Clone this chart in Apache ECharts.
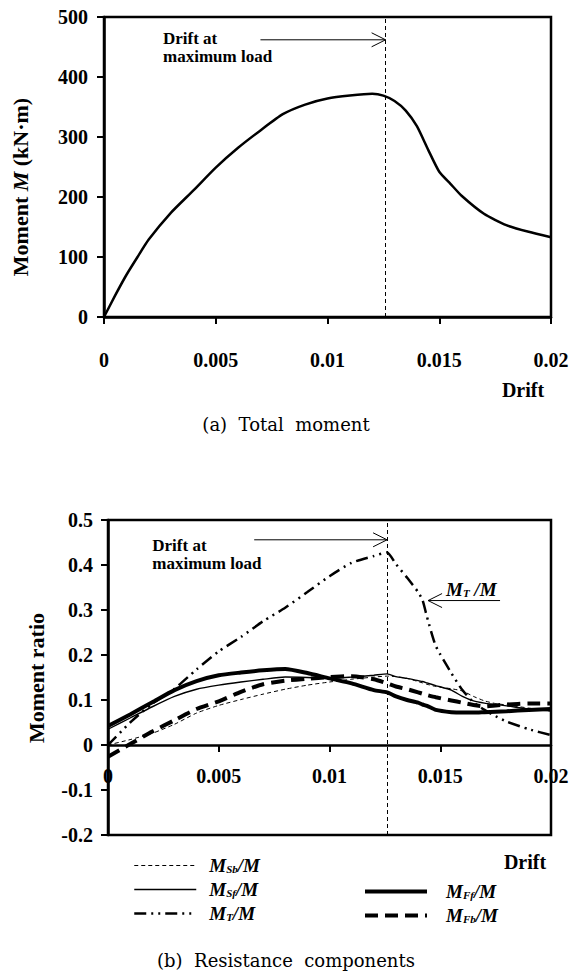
<!DOCTYPE html>
<html>
<head>
<meta charset="utf-8">
<script src="https://cdn.jsdelivr.net/npm/echarts@6/dist/echarts.min.js"></script>
<style>
  html, body { margin: 0; padding: 0; background: #fff; }
  #chart { width: 572px; height: 979px; }
</style>
</head>
<body>
<div id="chart"></div>
<script>
// fonts
var SERIF = '"Liberation Serif", "Times New Roman", serif';
var CAPTION_FONT = '"DejaVu Serif", serif';

// (a) total moment vs drift
var driftA  = [0, 0.0005, 0.001, 0.0015, 0.002, 0.003, 0.004, 0.005, 0.006, 0.007, 0.008, 0.009,
               0.010, 0.011, 0.012, 0.0125, 0.013, 0.0135, 0.014, 0.0145, 0.015, 0.0155, 0.016,
               0.017, 0.018, 0.019, 0.020];
var momentA = [0, 36, 70, 100, 129, 174, 211, 249, 282, 311, 338, 354,
               364, 369, 372, 369, 360, 344, 318, 279, 242, 222, 202,
               172, 153, 142, 133];

// (b) resistance components vs drift
var driftB   = [0, 0.001, 0.002, 0.003, 0.004, 0.005, 0.006, 0.007, 0.008, 0.009, 0.010, 0.011,
                0.012, 0.0126, 0.013, 0.0135, 0.014, 0.0142, 0.0144, 0.0148, 0.0155, 0.016,
                0.0165, 0.017, 0.0175, 0.018, 0.019, 0.020];
var ratioMSb = [0, 0.012, 0.026, 0.046, 0.071, 0.088, 0.101, 0.113, 0.124, 0.133, 0.140, 0.146,
                0.151, 0.153, 0.152, 0.148, 0.141, 0.138, 0.135, 0.130, 0.125, 0.120,
                0.108, 0.098, 0.092, 0.089, 0.082, 0.075];
var ratioMSf = [0.035, 0.060, 0.085, 0.108, 0.124, 0.133, 0.140, 0.146, 0.151, 0.150, 0.148, 0.151,
                0.155, 0.158, 0.152, 0.148, 0.143, 0.141, 0.138, 0.132, 0.122, 0.108,
                0.098, 0.093, 0.090, 0.087, 0.080, 0.076];
var ratioMT  = [0, 0.050, 0.092, 0.125, 0.168, 0.208, 0.240, 0.275, 0.305, 0.340, 0.375, 0.405,
                0.420, 0.428, 0.402, 0.372, 0.340, 0.322, 0.285, 0.220, 0.160, 0.122,
                0.095, 0.078, 0.064, 0.052, 0.035, 0.022];
var ratioMFf = [0.042, 0.068, 0.095, 0.122, 0.142, 0.155, 0.161, 0.166, 0.169, 0.160, 0.148, 0.137,
                0.122, 0.117, 0.108, 0.100, 0.094, 0.090, 0.087, 0.078, 0.073, 0.072,
                0.072, 0.073, 0.074, 0.075, 0.078, 0.080];
var ratioMFb = [-0.026, 0.002, 0.030, 0.055, 0.080, 0.097, 0.118, 0.135, 0.143, 0.147, 0.151, 0.153,
                0.146, 0.137, 0.130, 0.124, 0.117, 0.114, 0.111, 0.106, 0.099, 0.094,
                0.089, 0.086, 0.088, 0.090, 0.092, 0.092];

// tick labels
var xTickLabels  = ['0', '0.005', '0.01', '0.015', '0.02'];
var yTickLabelsA = ['0', '100', '200', '300', '400', '500'];
var yTickLabelsB = ['-0.2', '-0.1', '0', '0.1', '0.2', '0.3', '0.4', '0.5'];

// annotation anchors (data units)
var peakDrift = 0.0126;
var arrowA = { from: 0.007, at: 462, textX: 0.00264, textY: 478 };
var arrowB = { from: 0.0066, at: 0.456, textX: 0.002, textY: 0.462 };
var arrowMT = { tip: 0.01445, tail: 0.0177, at: 0.321, textX: 0.01526 };

var gridA = { left: 104, top: 17, width: 447, height: 300 };
var gridB = { left: 108, top: 520, width: 443, height: 315 };
var yMinB = -0.2, yMaxB = 0.5;

function pairs(xs, ys) {
  return xs.map(function (x, i) { return [x, ys[i]]; });
}

var chart = echarts.init(document.getElementById('chart'), null, { renderer: 'svg' });

var tickFont = { fontFamily: SERIF, fontWeight: 'bold', fontSize: 20, color: '#000' };
var richM = {
  m: { fontFamily: SERIF, fontStyle: 'italic', fontWeight: 'bold', fontSize: 19, color: '#000' },
  s: { fontFamily: SERIF, fontStyle: 'italic', fontWeight: 'bold', fontSize: 11, color: '#000', padding: [7, 0, 0, 0] }
};
var legendText = {
  'MSb/M': '{m|M}{s|Sb}{m|/M}',
  'MSf/M': '{m|M}{s|Sf}{m|/M}',
  'MT/M':  '{m|M}{s|T}{m|/M}',
  'MFf/M': '{m|M}{s|Ff}{m|/M}',
  'MFb/M': '{m|M}{s|Fb}{m|/M}'
};

function xAxisFor(grid, margin, offset) {
  return {
    type: 'value', gridIndex: grid, min: 0, max: 0.02, interval: 0.005,
    offset: offset,
    axisLine: { show: true, onZero: false, lineStyle: { color: '#000', width: 2.5 } },
    axisTick: { show: true, length: 7, lineStyle: { color: '#000', width: 2 } },
    axisLabel: Object.assign({ margin: margin, showMinLabel: true, showMaxLabel: true,
      formatter: function (v) { return xTickLabels[Math.round(v / 0.005)]; } }, tickFont),
    splitLine: { show: false }
  };
}

var borderLine = { color: '#000', width: 2.5 };
// bottom chart's drift axis sits on ratio = 0
var zeroOffsetB = -gridB.height * (0 - yMinB) / (yMaxB - yMinB);

function lineSeries(name, xs, ys, style, extra) {
  return Object.assign({
    name: name, type: 'line', xAxisIndex: 1, yAxisIndex: 1, data: pairs(xs, ys),
    symbol: 'none', smooth: 0.2, itemStyle: { color: '#000' },
    lineStyle: Object.assign({ color: '#000' }, style)
  }, extra || {});
}

var peakLine = {
  silent: true, symbol: 'none', label: { show: false }, precision: 6,
  lineStyle: { color: '#000', width: 1, type: [4, 3] },
  data: [{ xAxis: peakDrift }]
};

function legendFor(names, left, top, textGap) {
  return {
    data: names, orient: 'vertical', left: left, top: top,
    itemWidth: 62, itemHeight: 20, itemGap: 5, selectedMode: false,
    itemStyle: { opacity: 0 },
    lineStyle: { width: 'inherit', type: 'inherit', color: 'inherit' },
    formatter: function (n) { return legendText[n]; },
    textStyle: { rich: richM, padding: [0, 0, 0, textGap] }
  };
}

chart.setOption({
  animation: false,
  backgroundColor: '#fff',
  grid: [
    Object.assign({ show: true, borderColor: '#000', borderWidth: 2.5 }, gridA),
    Object.assign({ show: true, borderColor: '#000', borderWidth: 2.5 }, gridB)
  ],
  xAxis: [xAxisFor(0, 33, 0), xAxisFor(1, 21, zeroOffsetB)],
  yAxis: [
    {
      type: 'value', gridIndex: 0, min: 0, max: 500, interval: 100,
      axisLine: { show: true, lineStyle: borderLine },
      axisTick: { show: true, length: 7, lineStyle: { color: '#000', width: 2 } },
      axisLabel: Object.assign({ margin: 16,
        formatter: function (v) { return yTickLabelsA[Math.round(v / 100)]; } }, tickFont),
      splitLine: { show: false }
    },
    {
      type: 'value', gridIndex: 1, min: yMinB, max: yMaxB, interval: 0.1,
      axisLine: { show: true, lineStyle: borderLine },
      axisTick: { show: true, length: 7, lineStyle: { color: '#000', width: 2 } },
      axisLabel: Object.assign({ margin: 15,
        formatter: function (v) { return yTickLabelsB[Math.round((v - yMinB) / 0.1)]; } }, tickFont),
      splitLine: { show: false }
    }
  ],
  legend: [
    legendFor(['MSb/M', 'MSf/M', 'MT/M'], 128, 851, 8),
    legendFor(['MFf/M', 'MFb/M'], 358, 877, 14)
  ],
  series: [
    {
      name: 'M', type: 'line', xAxisIndex: 0, yAxisIndex: 0, data: pairs(driftA, momentA),
      symbol: 'none', smooth: 0.2, lineStyle: { color: '#000', width: 2.5 },
      markLine: peakLine
    },
    lineSeries('MSb/M', driftB, ratioMSb, { width: 1, type: [4, 3] }, { markLine: peakLine }),
    lineSeries('MSf/M', driftB, ratioMSf, { width: 1.4 }),
    lineSeries('MT/M', driftB, ratioMT, { width: 2.5, type: [12, 5, 2, 5, 2, 5] }),
    lineSeries('MFf/M', driftB, ratioMFf, { width: 4 }),
    lineSeries('MFb/M', driftB, ratioMFb, { width: 4, type: [13, 7] })
  ]
});

// annotations, placed through the axes
function px(grid, x, y) { return chart.convertToPixel({ gridIndex: grid }, [x, y]); }

function arrowRight(grid, x0, x1, y) {
  var a = px(grid, x0, y), b = px(grid, x1, y);
  return [
    { type: 'line', shape: { x1: a[0], y1: a[1], x2: b[0], y2: b[1] }, style: { stroke: '#000', lineWidth: 1 } },
    { type: 'polyline', shape: { points: [[b[0] - 14, b[1] - 7], [b[0], b[1]], [b[0] - 14, b[1] + 7]] },
      style: { stroke: '#000', lineWidth: 1, fill: null } }
  ];
}

function arrowLeft(grid, tip, tail, y) {
  var a = px(grid, tip, y), b = px(grid, tail, y);
  return [
    { type: 'line', shape: { x1: a[0], y1: a[1], x2: b[0], y2: b[1] }, style: { stroke: '#000', lineWidth: 1 } },
    { type: 'polyline', shape: { points: [[a[0] + 14, a[1] - 7], [a[0], a[1]], [a[0] + 14, a[1] + 7]] },
      style: { stroke: '#000', lineWidth: 1, fill: null } }
  ];
}

var noteFont = { fontFamily: SERIF, fontWeight: 'bold', fontSize: 17, fill: '#000' };
var tA = px(0, arrowA.textX, arrowA.textY);
var tB = px(1, arrowB.textX, arrowB.textY);
var tMT = px(1, arrowMT.textX, arrowMT.at);

function note(p) {
  return [
    { type: 'text', x: p[0], y: p[1], style: Object.assign({ text: 'Drift at', verticalAlign: 'top' }, noteFont) },
    { type: 'text', x: p[0], y: p[1] + 18, style: Object.assign({ text: 'maximum load', verticalAlign: 'top' }, noteFont) }
  ];
}

var graphics = []
  .concat(arrowRight(0, arrowA.from, peakDrift, arrowA.at))
  .concat(arrowRight(1, arrowB.from, peakDrift, arrowB.at))
  .concat(arrowLeft(1, arrowMT.tip, arrowMT.tail, arrowMT.at))
  .concat(note(tA))
  .concat(note(tB))
  .concat([
    { type: 'text', x: tMT[0], y: tMT[1] - 2, style: { text: '{m|M}{s|T}{m| /M}', rich: richM, verticalAlign: 'bottom' } },
    // axis titles
    { type: 'text', x: 20, y: 187, rotation: Math.PI / 2,
      style: { text: 'Moment {i|M} (kN·m)', align: 'center', verticalAlign: 'middle',
        fontFamily: SERIF, fontWeight: 'bold', fontSize: 22, fill: '#000',
        rich: { i: { fontFamily: SERIF, fontStyle: 'italic', fontWeight: 'bold', fontSize: 22 } } } },
    { type: 'text', x: 36, y: 678, rotation: Math.PI / 2,
      style: { text: 'Moment ratio', align: 'center', verticalAlign: 'middle',
        fontFamily: SERIF, fontWeight: 'bold', fontSize: 22, fill: '#000' } },
    { type: 'text', x: 523, y: 390, style: { text: 'Drift', align: 'center', verticalAlign: 'middle',
        fontFamily: SERIF, fontWeight: 'bold', fontSize: 20, fill: '#000' } },
    { type: 'text', x: 525, y: 862, style: { text: 'Drift', align: 'center', verticalAlign: 'middle',
        fontFamily: SERIF, fontWeight: 'bold', fontSize: 20, fill: '#000' } },
    // captions
    { type: 'text', x: 286, y: 424, style: { text: '(a)  Total  moment', align: 'center', verticalAlign: 'middle',
        fontFamily: CAPTION_FONT, fontSize: 18, fill: '#000' } },
    { type: 'text', x: 286, y: 960, style: { text: '(b)  Resistance  components', align: 'center', verticalAlign: 'middle',
        fontFamily: CAPTION_FONT, fontSize: 18, fill: '#000' } }
  ]);

chart.setOption({ graphic: graphics });
</script>
</body>
</html>
